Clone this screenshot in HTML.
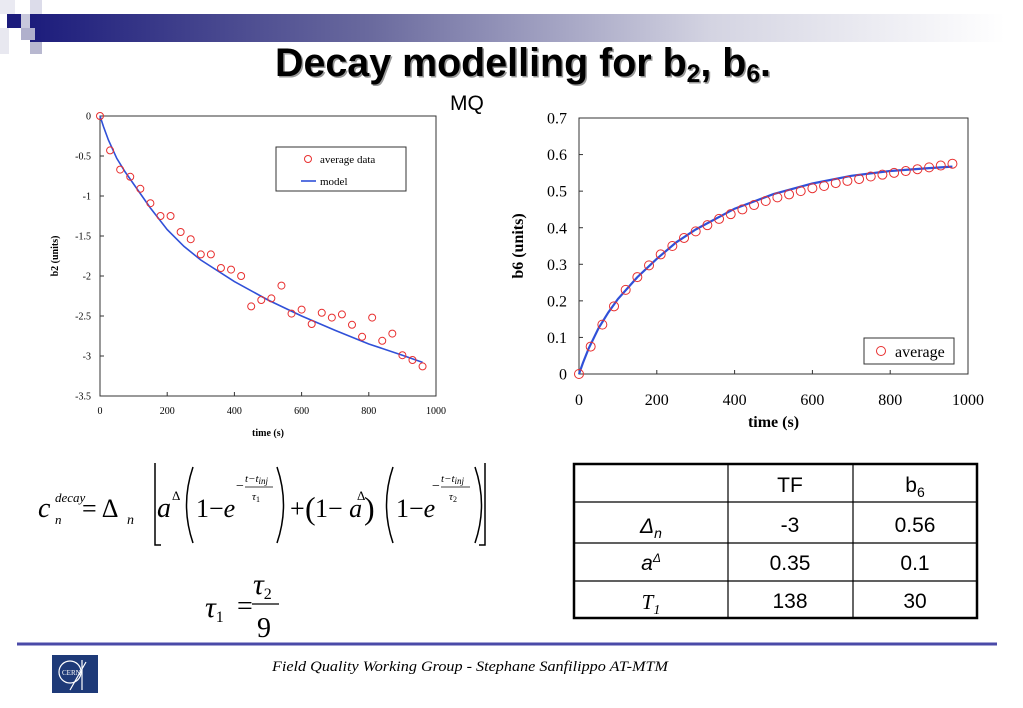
<!DOCTYPE html>
<html><head><meta charset="utf-8"><style>
body{margin:0;background:#fff;}
svg{display:block;}
text{font-family:"Liberation Serif",serif;}
.sans{font-family:"Liberation Sans",sans-serif;}
</style></head><body>
<svg id="s" width="1023" height="708" viewBox="0 0 1023 708" xmlns="http://www.w3.org/2000/svg">
<defs>
<linearGradient id="hg" x1="0" x2="1" y1="0" y2="0">
<stop offset="0" stop-color="#1c1c7c"/><stop offset="0.35" stop-color="#6a6a9e"/><stop offset="0.7" stop-color="#d4d4e2"/><stop offset="1" stop-color="#fff"/>
</linearGradient>
</defs>
<g>
<rect x="30" y="14" width="975" height="28" fill="url(#hg)"/>
<rect x="0" y="0" width="15" height="14" fill="#eaeaf2"/>
<rect x="7" y="14" width="14" height="14" fill="#1c1c7c"/>
<rect x="21" y="14" width="9" height="14" fill="#c8c8dc"/>
<rect x="30" y="0" width="12" height="14" fill="#dcdcea"/>
<rect x="21" y="28" width="14" height="12" fill="#b0b0cc"/>
<rect x="0" y="28" width="9" height="26" fill="#e8e8f0"/>
<rect x="30" y="42" width="12" height="12" fill="#b8b8d0"/>
</g>
<text x="523" y="76" text-anchor="middle" class="sans" font-weight="bold" font-size="40" fill="#999" transform="translate(1.5,1.5)" textLength="496" lengthAdjust="spacingAndGlyphs">Decay modelling for b<tspan font-size="25" dy="6">2</tspan><tspan dy="-6">, b</tspan><tspan font-size="25" dy="6">6</tspan><tspan dy="-6">.</tspan></text>
<text x="523" y="76" text-anchor="middle" class="sans" font-weight="bold" font-size="40" fill="#000" textLength="496" lengthAdjust="spacingAndGlyphs">Decay modelling for b<tspan font-size="25" dy="6">2</tspan><tspan dy="-6">, b</tspan><tspan font-size="25" dy="6">6</tspan><tspan dy="-6">.</tspan></text>
<text x="450" y="110" class="sans" font-size="21">MQ</text>

<g id="left"></g>
<g id="right"></g>

<g font-style="italic">
<text x="38" y="517" font-size="28">c</text>
<text x="55" y="502" font-size="13">decay</text>
<text x="55" y="524" font-size="13">n</text>
<text x="82" y="517" font-size="26" font-style="normal">= Δ</text>
<text x="127" y="524" font-size="14">n</text>
<path d="M155 463 V545 H161 M485 463 V545 H479" stroke="#000" stroke-width="1.5" fill="none"/>
<text x="157" y="517" font-size="28">a</text>
<text x="172" y="500" font-size="13" font-style="normal">Δ</text>
<path d="M193 467 Q180 505 193 543 M277 467 Q290 505 277 543 M393 467 Q380 505 393 543 M475 467 Q488 505 475 543" stroke="#000" stroke-width="1.5" fill="none"/>
<text x="196" y="517" font-size="26" font-style="normal">1−<tspan font-style="italic">e</tspan></text>
<text x="236" y="490" font-size="14" font-style="normal">−</text>
<text x="245" y="482" font-size="11">t−t<tspan font-size="9" dy="2">inj</tspan></text>
<line x1="245" y1="487" x2="273" y2="487" stroke="#000" stroke-width="0.8"/>
<text x="252" y="500" font-size="11">τ<tspan font-size="8" dy="2" font-style="normal">1</tspan></text>
<text x="290" y="517" font-size="26" font-style="normal">+</text>
<text x="305" y="519" font-size="32" font-style="normal">(</text>
<text x="315" y="517" font-size="26" font-style="normal">1− <tspan font-style="italic">a</tspan></text>
<text x="357" y="500" font-size="13" font-style="normal">Δ</text>
<text x="364" y="519" font-size="32" font-style="normal">)</text>
<text x="396" y="517" font-size="26" font-style="normal">1−<tspan font-style="italic">e</tspan></text>
<text x="432" y="490" font-size="14" font-style="normal">−</text>
<text x="441" y="482" font-size="11">t−t<tspan font-size="9" dy="2">inj</tspan></text>
<line x1="441" y1="487" x2="470" y2="487" stroke="#000" stroke-width="0.8"/>
<text x="449" y="500" font-size="11">τ<tspan font-size="8" dy="2" font-style="normal">2</tspan></text>
</g>
<g>
<text x="205" y="617" font-size="30" font-style="italic">τ<tspan font-size="16" dy="5" font-style="normal">1</tspan></text>
<text x="237" y="615" font-size="28">=</text>
<text x="253" y="594" font-size="30" font-style="italic">τ<tspan font-size="16" dy="5" font-style="normal">2</tspan></text>
<line x1="252" y1="604" x2="279" y2="604" stroke="#000" stroke-width="1.2"/>
<text x="257" y="637" font-size="28">9</text>
</g>

<g class="sans">
<rect x="574" y="464" width="403" height="154" fill="#fff" stroke="#000" stroke-width="2.5"/>
<line x1="728" y1="464" x2="728" y2="618" stroke="#000" stroke-width="1.2"/>
<line x1="853" y1="464" x2="853" y2="618" stroke="#000" stroke-width="1.2"/>
<line x1="574" y1="502" x2="977" y2="502" stroke="#000" stroke-width="1.2"/>
<line x1="574" y1="543" x2="977" y2="543" stroke="#000" stroke-width="1.2"/>
<line x1="574" y1="581" x2="977" y2="581" stroke="#000" stroke-width="1.2"/>
<g font-size="21" text-anchor="middle">
<text x="790" y="492" class="sans">TF</text>
<text x="915" y="492" class="sans">b<tspan font-size="14" dy="5">6</tspan></text>
<text x="651" y="533" class="sans" font-style="italic">Δ<tspan font-size="14" dy="5">n</tspan></text>
<text x="790" y="532" class="sans">-3</text>
<text x="915" y="532" class="sans">0.56</text>
<text x="651" y="570" class="sans" font-style="italic">a<tspan font-size="12" dy="-8">Δ</tspan></text>
<text x="790" y="570" class="sans">0.35</text>
<text x="915" y="570" class="sans">0.1</text>
<text x="651" y="609" font-style="italic">T<tspan font-size="14" dy="5">1</tspan></text>
<text x="790" y="608" class="sans">138</text>
<text x="915" y="608" class="sans">30</text>
</g>
</g>

<line x1="17" y1="644" x2="997" y2="644" stroke="#4a4aa8" stroke-width="3"/>
<g>
<rect x="52" y="655" width="46" height="38" fill="#1e3a78"/>
<circle cx="70" cy="672" r="11" fill="none" stroke="#fff" stroke-width="1.2"/>
<text x="62" y="675" font-size="7" fill="#fff">CERN</text>
<path d="M82 660 V690 M70 690 L86 662" stroke="#fff" stroke-width="1.2" fill="none"/>
</g>
<text x="272" y="671" font-size="15" font-style="italic" textLength="396" lengthAdjust="spacingAndGlyphs">Field Quality Working Group -  Stephane Sanfilippo   AT-MTM</text>
</svg>
<script>
// ---- b2 chart data ----
const b2Times = [0,30,60,90,120,150,180,210,240,270,300,330,360,390,420,450,480,510,540,570,600,630,660,690,720,750,780,810,840,870,900,930,960];
const b2Values = [0,-0.43,-0.67,-0.76,-0.91,-1.09,-1.25,-1.25,-1.45,-1.54,-1.73,-1.73,-1.90,-1.92,-2.00,-2.38,-2.30,-2.28,-2.12,-2.47,-2.42,-2.60,-2.46,-2.52,-2.48,-2.61,-2.76,-2.52,-2.81,-2.72,-2.99,-3.05,-3.13];
const b2ModelTimes = [0,10,25,50,75,100,150,200,250,300,400,500,600,700,800,900,960];
const b2ModelValues = [0,-0.13,-0.3,-0.53,-0.7,-0.85,-1.15,-1.42,-1.63,-1.80,-2.07,-2.30,-2.50,-2.68,-2.85,-2.99,-3.08];
const b2YTicks = [0,-0.5,-1,-1.5,-2,-2.5,-3,-3.5];
const b2XTicks = [0,200,400,600,800,1000];
// ---- b6 chart data ----
const b6Times = [0,30,60,90,120,150,180,210,240,270,300,330,360,390,420,450,480,510,540,570,600,630,660,690,720,750,780,810,840,870,900,930,960];
const b6Values = [0,0.075,0.135,0.185,0.23,0.265,0.297,0.327,0.35,0.372,0.39,0.407,0.424,0.437,0.45,0.462,0.473,0.483,0.491,0.5,0.508,0.514,0.522,0.528,0.533,0.54,0.545,0.55,0.555,0.56,0.565,0.57,0.575];
const b6ModelTimes = [0,10,25,50,75,100,150,200,250,300,400,500,600,700,800,900,960];
const b6ModelValues = [0,0.03,0.07,0.125,0.168,0.205,0.265,0.315,0.36,0.395,0.452,0.492,0.521,0.542,0.555,0.563,0.567];
const b6YTicks = [0,0.1,0.2,0.3,0.4,0.5,0.6,0.7];
const b6XTicks = [0,200,400,600,800,1000];

const NS = "http://www.w3.org/2000/svg";
function mk(parent, tag, attrs, txt){const e=document.createElementNS(NS,tag);for(const k in attrs)e.setAttribute(k,attrs[k]);if(txt!==undefined)e.textContent=txt;parent.appendChild(e);return e;}

function drawChart(g, cfg){
  const sx = v => cfg.x0 + (v - cfg.xmin)/(cfg.xmax-cfg.xmin)*(cfg.x1-cfg.x0);
  const sy = v => cfg.y0 + (cfg.ymax - v)/(cfg.ymax-cfg.ymin)*(cfg.y1-cfg.y0);
  const frame = mk(g,'rect',{x:cfg.x0,y:cfg.y0,width:cfg.x1-cfg.x0,height:cfg.y1-cfg.y0,fill:'#fff',stroke:'#333','stroke-width':1});
  
  
  cfg.yTicks.forEach(v=>{
    const t = mk(g,'text',{x:cfg.x0-cfg.tickGap,y:sy(v)+cfg.fs*0.35,'text-anchor':'end','font-size':cfg.fs},String(v));
    
    
    mk(g,'line',{x1:cfg.x0,x2:cfg.x0+4,y1:sy(v),y2:sy(v),stroke:'#333'});
  });
  cfg.xTicks.forEach(v=>{
    const t = mk(g,'text',{x:sx(v),y:cfg.y1+cfg.xLabGap,'text-anchor':'middle','font-size':cfg.fs},String(v));
    
    
    mk(g,'line',{x1:sx(v),x2:sx(v),y1:cfg.y1,y2:cfg.y1-4,stroke:'#333'});
  });
  const xt = mk(g,'text',{x:(cfg.x0+cfg.x1)/2,y:cfg.xTitleY,'text-anchor':'middle','font-size':cfg.tfs,'font-weight':'bold'},'time (s)');
  
  
  const yt = mk(g,'text',{x:0,y:0,'text-anchor':'middle','font-size':cfg.tfs,'font-weight':'bold',transform:`translate(${cfg.yTitleX},${(cfg.y0+cfg.y1)/2}) rotate(-90)`},cfg.yTitle);
  
  
  const dPath = cfg.mt.map((t,i)=>(i?'L':'M')+sx(t).toFixed(1)+' '+sy(cfg.mv[i]).toFixed(1)).join(' ');
  const line = mk(g,'path',{d:dPath,fill:'none',stroke:'#3050d8','stroke-width':cfg.lw});
  
  
  cfg.t.forEach((t,i)=>{
    const c = mk(g,'circle',{cx:sx(t),cy:sy(cfg.v[i]),r:cfg.r,fill:'none',stroke:'#e83030','stroke-width':1});
    
    
  });
}

drawChart(document.getElementById('left'),{x0:100,x1:436,y0:116,y1:396,xmin:0,xmax:1000,ymin:-3.5,ymax:0,
  yTicks:b2YTicks,xTicks:b2XTicks,t:b2Times,v:b2Values,mt:b2ModelTimes,mv:b2ModelValues,
  fs:10,tfs:10,tickGap:9,xLabGap:18,xTitleY:436,yTitleX:58,yTitle:'b2 (units)',r:3.5,lw:1.6});
drawChart(document.getElementById('right'),{x0:579,x1:968,y0:118,y1:374,xmin:0,xmax:1000,ymin:0,ymax:0.7,
  yTicks:b6YTicks,xTicks:b6XTicks,t:b6Times,v:b6Values,mt:b6ModelTimes,mv:b6ModelValues,
  fs:16,tfs:16,tickGap:12,xLabGap:31,xTitleY:427,yTitleX:523,yTitle:'b6 (units)',r:4.5,lw:2.2});

const L = document.getElementById('left');
const lg = mk(L,'g',{});


mk(lg,'rect',{x:276,y:147,width:130,height:44,fill:'#fff',stroke:'#333'});
mk(lg,'circle',{cx:308,cy:159,r:3.5,fill:'none',stroke:'#e83030'});
mk(lg,'text',{x:320,y:163,'font-size':11},'average data');
mk(lg,'line',{x1:301,x2:316,y1:181,y2:181,stroke:'#3050d8','stroke-width':1.6});
mk(lg,'text',{x:320,y:185,'font-size':11},'model');
const R = document.getElementById('right');
const rg = mk(R,'g',{});


mk(rg,'rect',{x:864,y:338,width:90,height:26,fill:'#fff',stroke:'#333'});
mk(rg,'circle',{cx:881,cy:351,r:4.5,fill:'none',stroke:'#e83030'});
mk(rg,'text',{x:895,y:357,'font-size':16},'average');
</script>
</body></html>
